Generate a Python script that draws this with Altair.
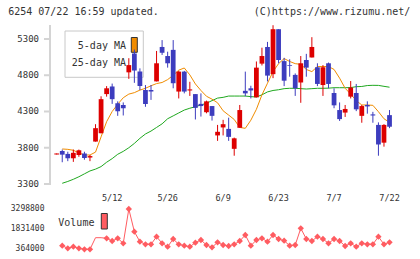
import altair as alt
import pandas as pd

# ---------------- data ----------------
idx = list(range(61))

open_ = [3707, 3755, 3715, 3655, 3700, 3720, 3665, 3885, 4000, 4540,
         4645, 4415, 4390, 4840, 5100, 4850, 4595, 4595, 4715, 5190,
         5065, 5150, 4575, 4850, 4590, 4540, 4405, 4290, 4375, 3970,
         4080, 4060, 3785, 4075, 4585, 4620, 4495, 4960, 5190, 4815,
         5435, 4995, 4940, 4805, 4700, 5010, 5045, 4910, 4665, 4965,
         4555, 4320, 4285, 4505, 4555, 4240, 4390, 4260, 4115, 3870,
         4250]
high = [3721, 3775, 3745, 3775, 3775, 3745, 3700, 4125, 4510, 4650,
        4685, 4440, 4425, 5035, 5155, 4895, 4665, 4665, 5135, 5285,
        5125, 5285, 4860, 4860, 4710, 4540, 4550, 4450, 4375, 4115,
        4185, 4215, 3940, 4390, 4850, 4655, 4990, 5180, 5260, 5490,
        5435, 5040, 5020, 4825, 5065, 5095, 5325, 4965, 4940, 4975,
        4620, 4425, 4390, 4720, 4680, 4390, 4440, 4295, 4150, 4125,
        4320]
low = [3707, 3600, 3615, 3605, 3675, 3635, 3615, 3885, 4000, 4505,
       4405, 4240, 4245, 4750, 4695, 4595, 4365, 4460, 4715, 5080,
       4905, 4620, 4480, 4550, 4515, 4190, 4230, 4275, 4175, 3895,
       3970, 3895, 3690, 4075, 4510, 4480, 4495, 4935, 4715, 4760,
       4965, 4650, 4780, 4515, 4420, 4780, 5045, 4650, 4515, 4620,
       4345, 4170, 4225, 4480, 4305, 4145, 4270, 4145, 3690, 3815,
       4070]
close = [3721, 3705, 3655, 3730, 3765, 3660, 3685, 4070, 4470, 4620,
         4470, 4305, 4345, 4940, 4865, 4650, 4405, 4575, 4965, 5110,
         4965, 4690, 4850, 4575, 4605, 4350, 4375, 4440, 4240, 4020,
         4125, 3950, 3930, 4320, 4550, 4590, 4905, 5065, 4795, 5435,
         5010, 4725, 4930, 4620, 4965, 4905, 5190, 4680, 4910, 4680,
         4385, 4195, 4335, 4630, 4330, 4375, 4370, 4245, 3845, 4115,
         4090]
ma5 = [None, 3783, 3778, 3765, 3730, 3700, 3700, 3740, 3950, 4160,
       4300, 4400, 4490, 4540, 4560, 4595, 4620, 4655, 4685, 4700,
       4740, 4800, 4870, 4900, 4805, 4680, 4590, 4510, 4470, 4420,
       4310, 4250, 4190, 4080, 4068, 4180, 4330, 4530, 4690, 4850,
       4960, 5030, 4990, 4960, 4950, 4880, 4850, 4920, 4920, 4920,
       4880, 4760, 4620, 4540, 4450, 4390, 4390, 4385, 4297, 4200,
       4150]
ma25 = [None, 3310, 3335, 3365, 3400, 3440, 3480, 3505, 3540, 3600,
        3650, 3710, 3750, 3800, 3860, 3930, 3990, 4030, 4080, 4130,
        4200, 4240, 4280, 4320, 4345, 4366, 4390, 4413, 4450, 4485,
        4495, 4513, 4513, 4513, 4513, 4505, 4500, 4530, 4570, 4590,
        4600, 4615, 4620, 4620, 4615, 4610, 4615, 4620, 4620, 4622,
        4628, 4628, 4628, 4630, 4642, 4645, 4658, 4661, 4660, 4647,
        4635]
volume = [None, 626000, 437000, 553000, 437000, 364000, 364000, 1209000, 1209000, 1165000,
          968000, 1165000, 801000, 3298800, 1646000, 917000, 728000, 728000, 1282000, 801000,
          553000, 1114000, 728000, 626000, 553000, 845000, 1041000, 677000, 510000, 874000,
          677000, 604000, 728000, 968000, 1405000, 626000, 1041000, 1165000, 917000, 1405000,
          1114000, 990000, 626000, 677000, 1893000, 1114000, 968000, 1282000, 1114000, 801000,
          1114000, 968000, 604000, 801000, 553000, 801000, 728000, 728000, 1282000, 728000,
          874000]
hidden_volume_markers = [7, 8]

date_labels = ["5/12", "5/26", "6/9", "6/23", "7/7", "7/22"]
date_label_idx = [10, 20, 30, 40, 50, 60]

price_ticks = [3300, 3800, 4300, 4800, 5300]
volume_ticks = [364000, 1831400, 3298800]

header_left = "6254 07/22 16:59 updated."
header_right = "(C)https://www.rizumu.net/"
legend_ma5 = "5-day MA"
legend_ma25 = "25-day MA"
legend_vol = "Volume"

# ---------------- styling ----------------
RED = "#dd0000"
BLUE = "#3c3cbe"
ORANGE = "#f08c00"
GREEN = "#1fa81f"
VOLC = "#ff5c61"
AXIS = "#d4d4d4"
TXT = "#333333"
MONO = "DejaVu Sans Mono"

W, H = 355, 159
X_DOMAIN = [-1.118, -1.118 + W / 5.547]
x_tick_vals = [X_DOMAIN[0] + k * (X_DOMAIN[1] - X_DOMAIN[0]) / 11 for k in range(12)]

df = pd.DataFrame({"i": idx, "open": open_, "high": high, "low": low,
                   "close": close, "ma5": ma5, "ma25": ma25, "vol": volume})
labels_df = pd.DataFrame({"i": date_label_idx, "label": date_labels})
pticks_df = pd.DataFrame({"v": price_ticks, "t": [str(v) for v in price_ticks]})
vticks_df = pd.DataFrame({"v": volume_ticks, "t": [str(v) for v in volume_ticks]})
one = pd.DataFrame({"a": [0]})

xscale = alt.Scale(domain=X_DOMAIN, nice=False, zero=False)
yscale = alt.Scale(domain=[3300, 5493], nice=False, zero=False)
vscale = alt.Scale(domain=[364000, 3298800], range=[224.3, 184], nice=False, zero=False)

up_color = alt.condition("datum.close >= datum.open", alt.value(RED), alt.value(BLUE))
x_noaxis = alt.X("i:Q", scale=xscale, axis=None)


def label(text, x, y, align="left", size=10):
    return alt.Chart(one).mark_text(
        align=align, baseline="middle", font=MONO, fontSize=size, color=TXT).encode(
        text=alt.value(text), x=alt.value(x), y=alt.value(y))


# legend (drawn first, under the candles)
legend_box = alt.Chart(one).mark_rect(fillOpacity=0, stroke="#c8c8c8", strokeWidth=1).encode(
    x=alt.value(14.5), x2=alt.value(92.8), y=alt.value(6), y2=alt.value(52.3))
legend_sw = alt.Chart(one).mark_rect(fill=ORANGE, stroke="#333333", strokeWidth=1).encode(
    x=alt.value(80.8), x2=alt.value(86.8), y=alt.value(12.5), y2=alt.value(27.3))

# y axis of the price panel (line, ticks, labels through the price scale)
y_domain_line = alt.Chart(one).mark_rule(color=AXIS, strokeWidth=2).encode(
    x=alt.value(-0.5), y=alt.value(0), y2=alt.value(H + 1))
y_tick_marks = alt.Chart(pticks_df).mark_rule(color=AXIS, strokeWidth=2).encode(
    x=alt.value(-6.5), x2=alt.value(-0.5),
    y=alt.Y("v:Q", scale=yscale, axis=None))
y_tick_labels = alt.Chart(pticks_df).mark_text(
    align="right", baseline="middle", font=MONO, fontSize=9, color=TXT).encode(
    x=alt.value(-11.5), y=alt.Y("v:Q", scale=yscale, axis=None), text="t:N")

wick = alt.Chart(df).mark_rule(strokeWidth=1).encode(
    x=alt.X("i:Q", scale=xscale,
            axis=alt.Axis(values=x_tick_vals, labels=False, title=None, grid=False,
                          domainColor=AXIS, domainWidth=2, tickColor=AXIS, tickWidth=2,
                          tickSize=5)),
    y=alt.Y("low:Q", scale=yscale, axis=None),
    y2="high:Q",
    color=up_color,
)
body = alt.Chart(df).mark_rect().transform_calculate(
    x0="datum.i - 0.43", x1="datum.i + 0.43").encode(
    x=alt.X("x0:Q", scale=xscale, axis=None), x2="x1:Q",
    y=alt.Y("open:Q", scale=yscale, axis=None), y2="close:Q",
    color=up_color,
)
ma5_line = alt.Chart(df).mark_line(color=ORANGE, strokeWidth=1).encode(
    x=x_noaxis, y=alt.Y("ma5:Q", scale=yscale, axis=None))
ma25_line = alt.Chart(df).mark_line(color=GREEN, strokeWidth=1).encode(
    x=x_noaxis, y=alt.Y("ma25:Q", scale=yscale, axis=None))
date_txt = alt.Chart(labels_df).mark_text(
    baseline="middle", font=MONO, fontSize=8.5, color=TXT).encode(
    x=x_noaxis, y=alt.value(173), text="label:N")

main = alt.layer(
    legend_box, legend_sw,
    label(legend_ma5, 75.5, 21.3, "right"), label(legend_ma25, 75.5, 37.7, "right"),
    label(header_left, -42.3, -13), label(header_right, 359.8, -13, "right"),
    y_domain_line, y_tick_marks, y_tick_labels,
    ma25_line, ma5_line, wick, body, date_txt)

vol_line = alt.Chart(df).mark_line(color=VOLC, strokeWidth=1).encode(
    x=x_noaxis, y=alt.Y("vol:Q", scale=vscale, axis=None))
hide_expr = " && ".join(f"datum.i != {k}" for k in hidden_volume_markers)
vol_pts = alt.Chart(df).transform_filter("isValid(datum.vol)").transform_filter(hide_expr).mark_point(
    shape="diamond", filled=True, size=40, opacity=1, color=VOLC).encode(
    x=x_noaxis, y=alt.Y("vol:Q", scale=vscale, axis=None))
vol_tick_labels = alt.Chart(vticks_df).mark_text(
    align="right", baseline="middle", font=MONO, fontSize=8, color=TXT).encode(
    x=alt.value(-6), y=alt.Y("v:Q", scale=vscale, axis=None), text="t:N")
vol_legend_sw = alt.Chart(one).mark_rect(fill=VOLC, stroke="#333333", strokeWidth=1).encode(
    x=alt.value(50.8), x2=alt.value(56.8), y=alt.value(188.5), y2=alt.value(204))

vol = alt.layer(vol_line, vol_pts, vol_tick_labels, label(legend_vol, 7.8, 197.5), vol_legend_sw)

chart = alt.layer(main, vol).resolve_scale(y="independent").properties(
    width=W, height=H,
    autosize=alt.AutoSizeParams(type="none"),
    padding={"left": 50.5, "top": 25, "right": 420 - 50.5 - W, "bottom": 259 - 25 - H},
).configure(background="white").configure_view(strokeWidth=0, stroke="transparent")

chart.save("out.html", embed_options={"renderer": "svg", "actions": False})
